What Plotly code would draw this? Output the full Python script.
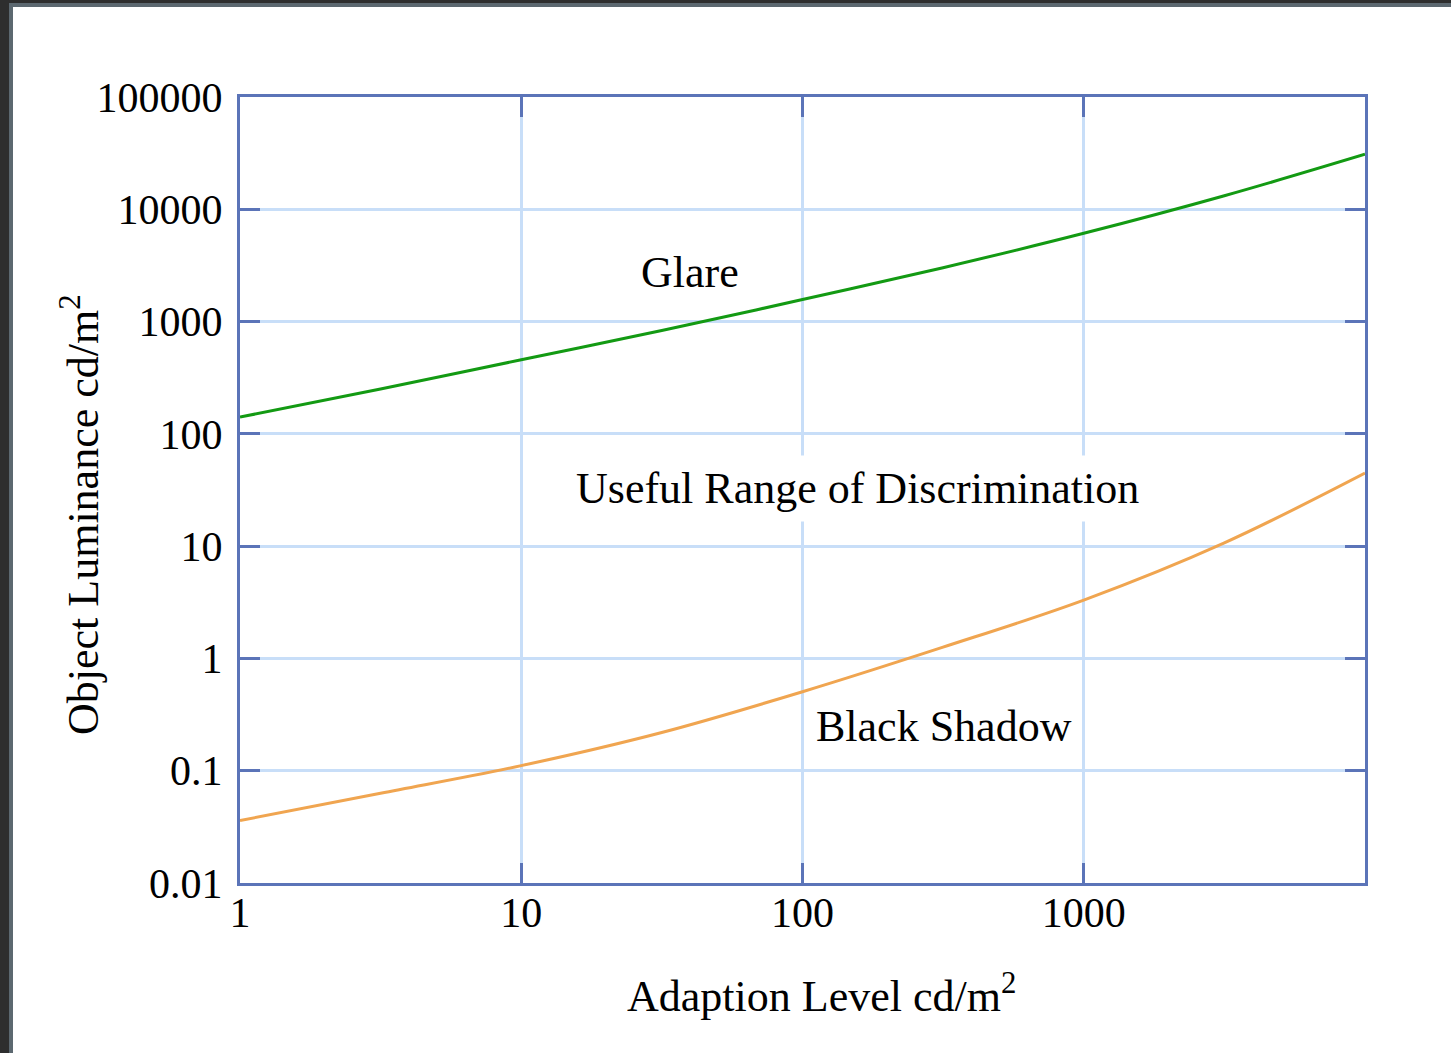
import plotly.graph_objects as go

# Data
adaption = [1, 3.16, 10, 31.6, 100, 316, 1000, 3162, 10000]
glare = [141, 251, 457, 832, 1570, 3020, 6110, 13200, 30900]
black_shadow = [0.036, 0.063, 0.111, 0.219, 0.505, 1.26, 3.31, 10.7, 44.7]

x_ticks = [1, 10, 100, 1000]
x_ticktext = ["1", "10", "100", "1000"]
y_ticks = [0.01, 0.1, 1, 10, 100, 1000, 10000, 100000]
y_ticktext = ["0.01", "0.1", "1", "10", "100", "1000", "10000", "100000"]

FRAME = "#5b74b8"
GRID = "#c8def8"
FONT = "Liberation Serif, Times New Roman, serif"

fig = go.Figure()
fig.add_trace(go.Scatter(x=adaption, y=glare, mode="lines",
                         line=dict(color="#139a13", width=3, shape="spline"),
                         name="Glare", showlegend=False))
fig.add_trace(go.Scatter(x=adaption, y=black_shadow, mode="lines",
                         line=dict(color="#f0a550", width=3, shape="spline"),
                         name="Black Shadow", showlegend=False))

axis_common = dict(showline=True, linecolor=FRAME, linewidth=3, mirror="ticks",
                   ticks="inside", ticklen=20, tickwidth=3, tickcolor=FRAME,
                   showgrid=True, gridcolor=GRID, gridwidth=2.5, zeroline=False,
                   tickfont=dict(family=FONT, size=42, color="black"))

fig.update_xaxes(type="log", range=[0, 4], tickvals=x_ticks, ticktext=x_ticktext,
                 ticklabelstandoff=-9, **axis_common)
fig.update_yaxes(type="log", range=[-2, 5], tickvals=y_ticks, ticktext=y_ticktext,
                 ticklabelstandoff=6, **axis_common)

ann_font = dict(family=FONT, size=44, color="black")
fig.add_annotation(x=1.6, y=3.433, xref="x", yref="y", text="Glare", showarrow=False,
                   font=ann_font, bgcolor="white")
fig.add_annotation(x=2.197, y=1.509, xref="x", yref="y", text="Useful Range of Discrimination",
                   showarrow=False, font=ann_font, bgcolor="white", borderpad=8)
fig.add_annotation(x=2.503, y=-0.61, xref="x", yref="y", text="Black Shadow", showarrow=False,
                   font=ann_font, bgcolor="white")

# axis titles
fig.add_annotation(x=(821 - 240) / 1125, y=(883 - 993) / 786, xref="paper", yref="paper",
                   text="Adaption Level cd/m<sup>2</sup>", showarrow=False, font=ann_font,
                   xanchor="center", yanchor="middle")
fig.add_annotation(x=(80 - 240) / 1125, y=(883 - 515) / 786, xref="paper", yref="paper",
                   text="Object Luminance cd/m<sup>2</sup>", showarrow=False, font=ann_font,
                   textangle=-90, xanchor="center", yanchor="middle")

# window frame at top-left
def px(x):
    return (x - 240) / 1125

def py(y):
    return (883 - y) / 786

shapes = [
    dict(type="rect", xref="paper", yref="paper", x0=px(0), x1=px(1451), y0=py(0), y1=py(3),
         fillcolor="#2e2e2e", line_width=0, layer="below"),
    dict(type="rect", xref="paper", yref="paper", x0=px(9), x1=px(1451), y0=py(3), y1=py(7),
         fillcolor="#5c6870", line_width=0, layer="below"),
    dict(type="rect", xref="paper", yref="paper", x0=px(0), x1=px(9), y0=py(1053), y1=py(0),
         fillcolor="#2e2e2e", line_width=0, layer="below"),
    dict(type="rect", xref="paper", yref="paper", x0=px(9), x1=px(13), y0=py(1053), y1=py(3),
         fillcolor="#5c6870", line_width=0, layer="below"),
]

fig.update_layout(width=1451, height=1053, margin=dict(l=240, r=86, t=97, b=170),
                  paper_bgcolor="white", plot_bgcolor="white", shapes=shapes,
                  font=dict(family=FONT, color="black"), showlegend=False)

fig.write_html("out.html", config={"displayModeBar": False},
               post_script="document.body.style.margin='0';document.body.style.overflow='hidden';")
